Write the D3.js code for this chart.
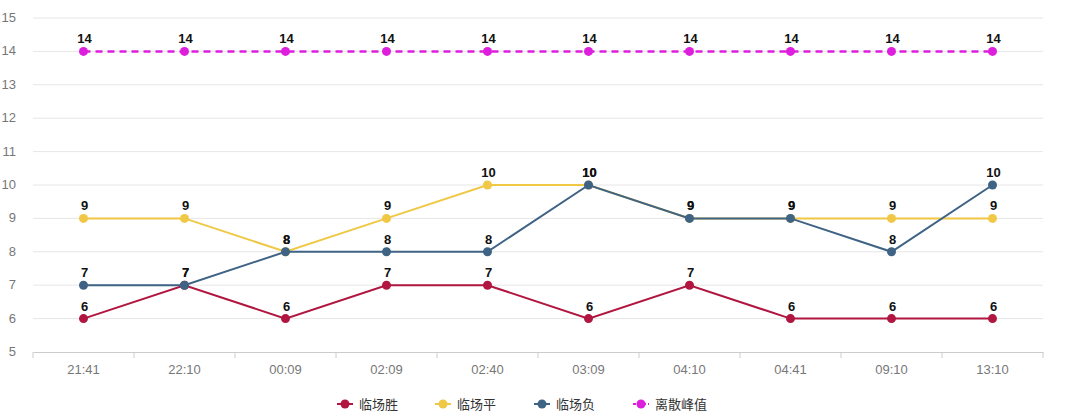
<!DOCTYPE html>
<html><head><meta charset="utf-8">
<script src="https://cdn.jsdelivr.net/npm/d3@7/dist/d3.min.js"></script>
<style>body{margin:0;background:#fff}svg{display:block}</style>
</head><body><svg id="c" width="1066" height="418"></svg>
<script>
const categories = ["21:41","22:10","00:09","02:09","02:40","03:09","04:10","04:41","09:10","13:10"];
const seriesNames = ["临场胜","临场平","临场负","离散峰值"];
const winValues = [6,7,6,7,7,6,7,6,6,6];
const drawValues = [9,9,8,9,10,10,9,9,9,9];
const loseValues = [7,7,8,8,8,10,9,9,8,10];
const peakValues = [14,14,14,14,14,14,14,14,14,14];
const yTicks = [5,6,7,8,9,10,11,12,13,14,15];
const colors = ["#b0163f","#f0c845","#3f6385","#dd1fdd"];

const series = [winValues, drawValues, loseValues, peakValues].map((v,i)=>({name:seriesNames[i], values:v, color:colors[i], dashed:i===3}));

const svg = d3.select("#c");
const mLeft=33, mRight=1043, mTop=18, mBottom=352;
const x = d3.scaleBand().domain(categories).range([mLeft,mRight]);
const y = d3.scaleLinear().domain([5,15]).range([mBottom,mTop]);
const cx = d => x(d)+x.bandwidth()/2;

// grid
svg.append("g").selectAll("line").data(yTicks.filter(t=>t!==5)).join("line")
  .attr("x1",mLeft).attr("x2",mRight).attr("y1",d=>y(d)).attr("y2",d=>y(d))
  .attr("stroke","#e6e6e6").attr("stroke-width",1);
// y labels
svg.append("g").selectAll("text").data(yTicks).join("text")
  .attr("x",16).attr("y",d=>y(d)+4).attr("text-anchor","end")
  .attr("font-family","Arial, 'Liberation Sans', sans-serif").attr("font-size",13).attr("fill","#777")
  .text(d=>d);
// x axis
const xa = svg.append("g").attr("transform",`translate(0,${mBottom})`)
  .call(d3.axisBottom(x).tickSize(0).tickPadding(13));
xa.select(".domain").attr("stroke","#ccc");
xa.selectAll("text").attr("font-family","Arial, 'Liberation Sans', sans-serif").attr("font-size",13).attr("fill","#777");
svg.append("g").selectAll("line").data(d3.range(categories.length+1)).join("line")
  .attr("x1",i=>mLeft+i*x.step()).attr("x2",i=>mLeft+i*x.step())
  .attr("y1",mBottom).attr("y2",mBottom+6).attr("stroke","#ccc");

const line = d3.line().x((d,i)=>cx(categories[i])).y(d=>y(d));
series.forEach(s=>{
  svg.append("path").attr("d",line(s.values)).attr("fill","none")
    .attr("stroke",s.color).attr("stroke-width",s.dashed?2.5:2)
    .attr("stroke-dasharray",s.dashed?"7,5":null);
  svg.append("g").selectAll("circle").data(s.values).join("circle")
    .attr("cx",(d,i)=>cx(categories[i])).attr("cy",d=>y(d)).attr("r",4.5).attr("fill",s.color);
});
series.forEach(s=>{
  svg.append("g").selectAll("text").data(s.values).join("text")
    .attr("x",(d,i)=>cx(categories[i])+1).attr("y",d=>y(d)-8).attr("text-anchor","middle")
    .attr("font-family","Arial, 'Liberation Sans', sans-serif").attr("font-weight","bold").attr("font-size",13).attr("fill","#111")
    .text(d=>d);
});

// legend
const legX = [337,435,534,633];
const lg = svg.append("g").selectAll("g").data(series).join("g")
  .attr("transform",(d,i)=>`translate(${legX[i]},404)`);
lg.append("line").attr("x1",0).attr("x2",16).attr("y1",0).attr("y2",0)
  .attr("stroke",d=>d.color).attr("stroke-width",2).attr("stroke-dasharray",d=>d.dashed?"3,2":null);
lg.append("circle").attr("cx",8).attr("cy",0).attr("r",4.5).attr("fill",d=>d.color);
lg.append("text").attr("x",22).attr("y",5).attr("font-family","'Noto Sans CJK SC', sans-serif")
  .attr("font-size",13).attr("fill","#333").text(d=>d.name);
</script></body></html>
